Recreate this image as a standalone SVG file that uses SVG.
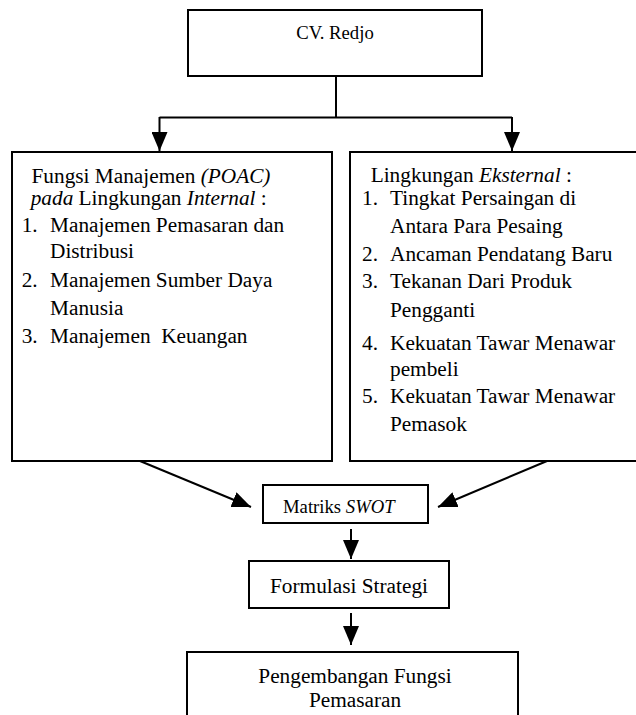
<svg xmlns="http://www.w3.org/2000/svg" width="636" height="715" viewBox="0 0 636 715">
<defs>
<marker id="ah" markerUnits="userSpaceOnUse" markerWidth="20" markerHeight="16" viewBox="0 0 20 16" refX="19" refY="8" orient="auto">
<path d="M0,0 L19,8 L0,16 Z" fill="#000"/>
</marker>
</defs>
<style>
.box{fill:#fff;stroke:#000;stroke-width:2}
.t{font-family:"Liberation Serif","Times New Roman",serif;font-size:21.3px;fill:#000}
.s{font-family:"Liberation Serif","Times New Roman",serif;font-size:18.7px;fill:#000}
.i{font-style:italic}
.c{fill:none;stroke:#000;stroke-width:2}
</style>
<rect width="636" height="715" fill="#fff"/>
<g id="connectors">
<polyline class="c" points="336,76 336,117.5"/>
<polyline class="c" points="159.5,117.5 512,117.5"/>
<line class="c" x1="159.5" y1="117" x2="159.5" y2="151" marker-end="url(#ah)"/>
<line class="c" x1="512" y1="117" x2="512" y2="151" marker-end="url(#ah)"/>
<line class="c" x1="140" y1="461" x2="251" y2="507" marker-end="url(#ah)"/>
<line class="c" x1="547" y1="461" x2="438" y2="507" marker-end="url(#ah)"/>
<line class="c" x1="351" y1="529" x2="351" y2="559" marker-end="url(#ah)"/>
<line class="c" x1="351" y1="613" x2="351" y2="645" marker-end="url(#ah)"/>
</g>
<g id="cv-redjo">
<rect class="box" x="188" y="10" width="294" height="66"/>
<text class="s" x="335" y="39" text-anchor="middle">CV. Redjo</text>
</g>
<g id="internal">
<rect class="box" x="12" y="152" width="320" height="309"/>
<text class="t" x="31.5" y="182.7">Fungsi Manajemen <tspan class="i">(POAC)</tspan></text>
<text class="t" x="30.7" y="205"><tspan class="i">pada</tspan> Lingkungan <tspan class="i">Internal</tspan> :</text>
<text class="t" x="21.7" y="231.7">1.</text>
<text class="t" x="50" y="231.7">Manajemen Pemasaran dan</text>
<text class="t" x="50" y="258.3">Distribusi</text>
<text class="t" x="21.7" y="286.7">2.</text>
<text class="t" x="50" y="286.7">Manajemen Sumber Daya</text>
<text class="t" x="50" y="315">Manusia</text>
<text class="t" x="21.7" y="343.3">3.</text>
<text class="t" x="50" y="343.3" xml:space="preserve">Manajemen  Keuangan</text>
</g>
<g id="eksternal">
<rect class="box" x="350" y="152" width="292" height="309"/>
<text class="t" x="370.7" y="181.7">Lingkungan <tspan class="i">Eksternal</tspan> :</text>
<text class="t" x="362" y="205">1.</text>
<text class="t" x="390" y="205">Tingkat Persaingan di</text>
<text class="t" x="390" y="233.3">Antara Para Pesaing</text>
<text class="t" x="362" y="260.7">2.</text>
<text class="t" x="390" y="260.7">Ancaman Pendatang Baru</text>
<text class="t" x="362" y="288.3">3.</text>
<text class="t" x="390" y="288.3">Tekanan Dari Produk</text>
<text class="t" x="390" y="316.7">Pengganti</text>
<text class="t" x="362" y="349.5">4.</text>
<text class="t" x="390" y="349.5">Kekuatan Tawar Menawar</text>
<text class="t" x="390" y="376">pembeli</text>
<text class="t" x="362" y="403">5.</text>
<text class="t" x="390" y="403">Kekuatan Tawar Menawar</text>
<text class="t" x="390" y="431">Pemasok</text>
</g>
<g id="swot">
<rect class="box" x="263" y="485" width="165" height="38"/>
<text class="s" x="283" y="512.7">Matriks <tspan class="i">SWOT</tspan></text>
</g>
<g id="formulasi">
<rect class="box" x="249" y="561" width="200" height="47"/>
<text class="t" x="349" y="593" text-anchor="middle">Formulasi Strategi</text>
</g>
<g id="pengembangan">
<rect class="box" x="187" y="652" width="331" height="80"/>
<text class="t" x="355" y="682.7" text-anchor="middle">Pengembangan Fungsi</text>
<text class="t" x="355" y="706.7" text-anchor="middle">Pemasaran</text>
</g>
</svg>
